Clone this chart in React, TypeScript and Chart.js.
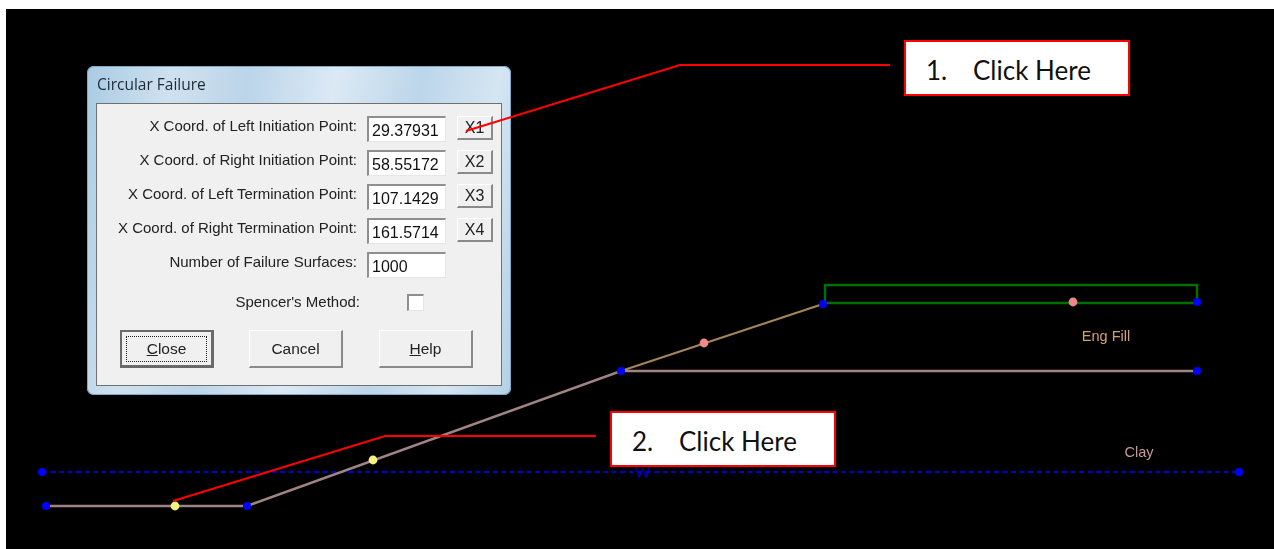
import React, { useEffect, useRef } from "react";
import { Chart, registerables } from "chart.js";

Chart.register(...registerables);

const clayX = [46, 247, 621, 1197];
const clayY = [506, 506, 371, 371];
const fillSlopeX = [621, 823];
const fillSlopeY = [371, 304];
const fillBoundaryX = [825, 1197, 1197, 825, 825];
const fillBoundaryY = [303, 303, 285, 285, 303];
const waterX = [42, 1239];
const waterY = [472, 472];
const waterMarkX = [635, 639, 642.5, 646, 650];
const waterMarkY = [466, 477, 469, 477, 466];
const vertexX = [46, 247, 621, 823, 1197, 1197, 42, 1239];
const vertexY = [506, 506, 371, 304, 302, 371, 472, 472];
const initiationX = [175, 373];
const initiationY = [506, 460];
const terminationX = [704, 1073];
const terminationY = [343, 302];
const leaderOneX = [466, 680, 890];
const leaderOneY = [131, 65, 65];
const leaderTwoX = [173, 385, 596];
const leaderTwoY = [501, 436, 436];
const soilLabels = ["Eng Fill", "Clay"];
const soilLabelX = [1106, 1139];
const soilLabelY = [337, 453];
const soilLabelColors = ["#d0a273", "#c49a9a"];

const fieldLabels = [
  "X Coord. of Left Initiation Point:",
  "X Coord. of Right Initiation Point:",
  "X Coord. of Left Termination Point:",
  "X Coord. of Right Termination Point:",
  "Number of Failure Surfaces:",
];
const fieldValues = ["29.37931", "58.55172", "107.1429", "161.5714", "1000"];
const fieldTops = [116, 150, 184, 218, 252];
const pickButtons = ["X1", "X2", "X3", "X4"];

const zip = (xs: number[], ys: number[]) => xs.map((x, i) => ({ x, y: ys[i] }));

const line = (data: any, color: string, width: number, order: number, dash: number[] = []) => ({
  data,
  showLine: true,
  borderColor: color,
  borderWidth: width,
  borderDash: dash,
  pointRadius: 0,
  tension: 0,
  order,
});
const dots = (data: any, color: string, radius: number, order: number) => ({
  data,
  showLine: false,
  pointRadius: radius,
  pointBackgroundColor: color,
  pointBorderWidth: 0,
  order,
});

const soilLabelPlugin = {
  id: "soilLabels",
  afterDatasetsDraw(chart: any) {
    const { ctx, scales } = chart;
    ctx.save();
    ctx.font = '14.5px "Liberation Sans"';
    ctx.textAlign = "center";
    ctx.textBaseline = "middle";
    soilLabels.forEach((t, i) => {
      ctx.fillStyle = soilLabelColors[i];
      ctx.fillText(t, scales.x.getPixelForValue(soilLabelX[i]), scales.y.getPixelForValue(soilLabelY[i]));
    });
    ctx.restore();
  },
};

const abs = (left: number, top: number, width: number, height: number): React.CSSProperties => ({
  position: "absolute",
  left,
  top,
  width,
  height,
  boxSizing: "border-box",
});

const raised: React.CSSProperties = {
  background: "#f0f0f0",
  borderTop: "1px solid #ffffff",
  borderLeft: "1px solid #ffffff",
  borderRight: "2px solid #8a8a8a",
  borderBottom: "2px solid #8a8a8a",
  display: "flex",
  alignItems: "center",
  justifyContent: "center",
  color: "#222",
};
const sunken: React.CSSProperties = {
  background: "#ffffff",
  borderTop: "2px solid #8f8f8f",
  borderLeft: "2px solid #8f8f8f",
  borderRight: "1px solid #e6e6e6",
  borderBottom: "1px solid #e6e6e6",
};
const dialogFont = '"Liberation Sans", sans-serif';

function Callout({ left, top, n }: { left: number; top: number; n: string }) {
  return (
    <div
      style={{
        ...abs(left, top, 226, 56),
        background: "#fff",
        border: "2px solid #ff0000",
        fontFamily: 'Lato, "Noto Sans", sans-serif',
        fontSize: 26,
        color: "#111",
      }}
    >
      <span style={{ position: "absolute", left: 20, top: 13, lineHeight: "30px" }}>{n}</span>
      <span style={{ position: "absolute", left: 67, top: 13, lineHeight: "30px", whiteSpace: "nowrap" }}>Click Here</span>
    </div>
  );
}

export default function App() {
  const ref = useRef<HTMLCanvasElement>(null);
  useEffect(() => {
    const chart = new Chart(ref.current as HTMLCanvasElement, {
      type: "scatter",
      data: {
        datasets: [
          dots(zip(vertexX, vertexY), "#0000ff", 4, 3),
          dots(zip(initiationX, initiationY), "#f4f47a", 4.4, 2),
          dots(zip(terminationX, terminationY), "#f08888", 4.4, 2),
          line(zip(leaderOneX, leaderOneY), "#ff0000", 2, 1),
          line(zip(leaderTwoX, leaderTwoY), "#ff0000", 2, 1),
          line(zip(clayX, clayY), "#a08484", 2.4, 6),
          line(zip(fillSlopeX, fillSlopeY), "#a5845a", 2.2, 5),
          line(zip(fillBoundaryX, fillBoundaryY), "#007000", 2.4, 4),
          line(zip(waterX, waterY), "#0000c8", 2, 7, [5, 3.5]),
          line(zip(waterMarkX, waterMarkY), "#0000c8", 1.3, 7),
        ] as any,
      },
      options: {
        responsive: false,
        animation: false,
        devicePixelRatio: 1,
        layout: { padding: 0, autoPadding: false },
        plugins: { legend: { display: false }, tooltip: { enabled: false }, title: { display: false } },
        scales: {
          x: { type: "linear", display: false, min: 0, max: 1274 },
          y: { type: "linear", display: false, min: 0, max: 549, reverse: true },
        },
      },
      plugins: [soilLabelPlugin],
    });
    return () => chart.destroy();
  }, []);

  return (
    <div style={{ position: "fixed", left: 0, top: 0, width: 1274, height: 549, background: "#fff", overflow: "hidden" }}>
      <div style={{ ...abs(6, 9, 1268, 540), background: "#000" }} />

      <div
        style={{
          ...abs(87, 66, 424, 329),
          borderRadius: 7,
          background:
            "linear-gradient(100deg,#a9cbe3 0%,#cfe1ef 18%,#bcd5e9 34%,#dbe9f4 52%,#bdd6ea 70%,#d5e5f2 86%,#b4d0e6 100%)",
          boxShadow: "inset 0 0 0 1px #7fa9c8",
          filter: "blur(0.5px)",
          fontFamily: dialogFont,
          color: "#222",
        }}
      >
        <div style={{ position: "absolute", left: 10, top: 7, fontFamily: '"Open Sans", sans-serif', fontSize: 15.5, lineHeight: "22px", color: "#1d2a38" }}>
          Circular Failure
        </div>
        <div style={{ ...abs(9, 37, 406, 283), background: "#f0f0f0", border: "1px solid #707070" }} />
        {fieldLabels.map((t, i) => (
          <div
            key={t}
            style={{ position: "absolute", right: 424 - 270, top: fieldTops[i] - 66 - 3, lineHeight: "26px", fontSize: 15, whiteSpace: "nowrap" }}
          >
            {t}
          </div>
        ))}
        {fieldValues.map((v, i) => (
          <div
            key={v}
            style={{
              ...abs(280, fieldTops[i] - 66, 79, 26),
              ...sunken,
              fontSize: 16,
              lineHeight: "25px",
              paddingLeft: 3,
              color: "#111",
            }}
          >
            {v}
          </div>
        ))}
        {pickButtons.map((t, i) => (
          <div key={t} style={{ ...abs(370, fieldTops[i] - 66, 36, 24), ...raised, fontSize: 16 }}>
            {t}
          </div>
        ))}
        <div style={{ position: "absolute", right: 424 - 273, top: 224, lineHeight: "24px", fontSize: 15, whiteSpace: "nowrap" }}>
          Spencer's Method:
        </div>
        <div style={{ ...abs(320, 228, 17, 17), ...sunken }} />
        <div style={{ ...abs(33, 264, 94, 38), ...raised, border: "2px solid #6a6a6a", borderRightWidth: 3, borderBottomWidth: 3, fontSize: 15.5 }}>
          <div style={{ ...abs(4, 4, 81, 26), border: "1px dotted #222", display: "flex", alignItems: "center", justifyContent: "center" }}>
            <span>
              <u>C</u>lose
            </span>
          </div>
        </div>
        <div style={{ ...abs(162, 264, 94, 38), ...raised, fontSize: 15.5 }}>Cancel</div>
        <div style={{ ...abs(292, 264, 94, 38), ...raised, fontSize: 15.5 }}>
          <span>
            <u>H</u>elp
          </span>
        </div>
      </div>

      <canvas ref={ref} width={1274} height={549} style={{ position: "absolute", left: 0, top: 0, width: 1274, height: 549, display: "block" }} />

      <Callout left={904} top={40} n="1." />
      <Callout left={610} top={411} n="2." />
    </div>
  );
}
